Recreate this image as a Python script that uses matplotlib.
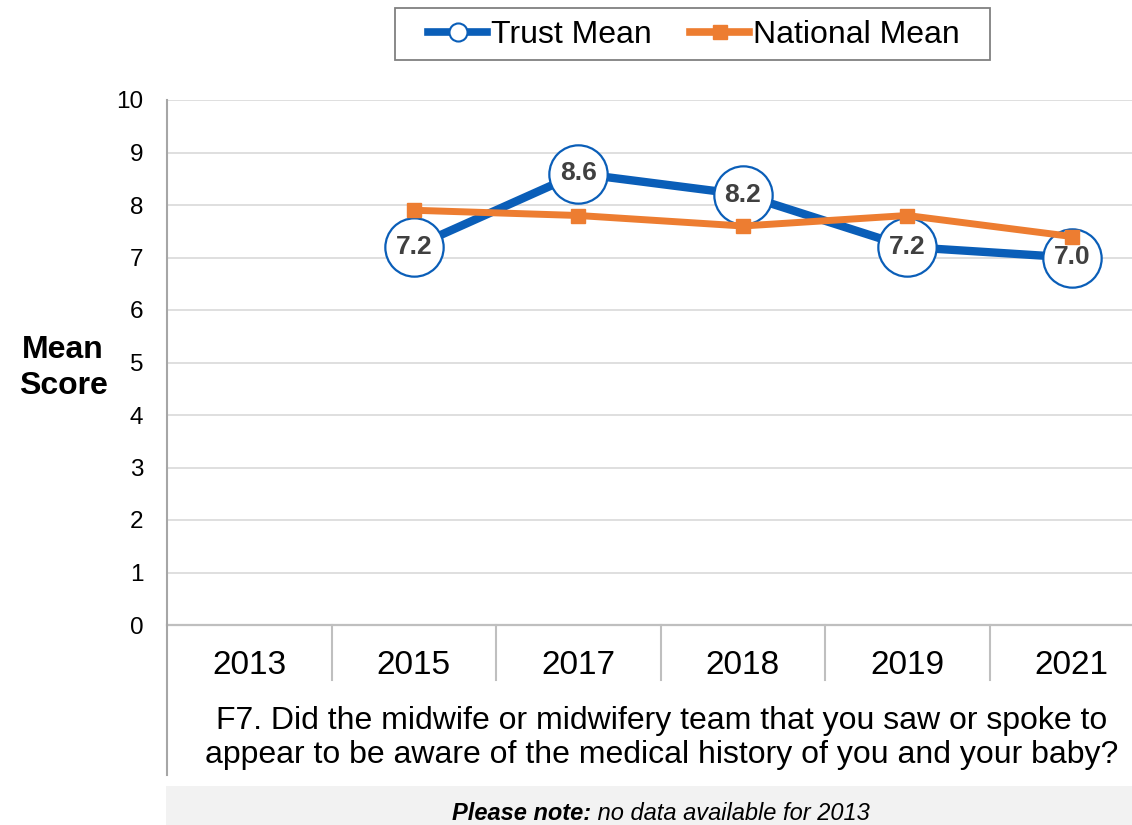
"""
Mean score trend chart: Trust vs National (F7 question)
"""

import matplotlib
matplotlib.use("Agg")
import matplotlib.pyplot as plt
import matplotlib.transforms as mtransforms
from matplotlib.lines import Line2D
from matplotlib.patches import Rectangle
import numpy as np

plt.rcParams['font.family'] = ['Liberation Sans', 'DejaVu Sans']

# データ
years = ['2013', '2015', '2017', '2018', '2019', '2021']
trust_mean = [np.nan, 7.2, 8.6, 8.2, 7.2, 7.0]
national_mean = [np.nan, 7.9, 7.8, 7.6, 7.8, 7.4]
y_ticks = list(range(0, 11))
question = ('F7. Did the midwife or midwifery team that you saw or spoke to\n'
            'appear to be aware of the medical history of you and your baby?')

# 色
blue = '#0A5EB8'
orange = '#ED7D31'
grid_grey = '#D9D9D9'
axis_grey = '#BFBFBF'

W, H = 1132, 825
fig = plt.figure(figsize=(W / 100, H / 100), dpi=100)

# プロット領域（右端は画像外まで伸びる）
left_px, right_px, top_px, bottom_px = 167, 1154, 100, 625
ax = fig.add_axes([left_px / W, 1 - bottom_px / H,
                   (right_px - left_px) / W, (bottom_px - top_px) / H])

x = np.arange(len(years))
ax.set_xlim(-0.5, len(years) - 0.5)
ax.set_ylim(0, 10)

for s in ax.spines.values():
    s.set_visible(False)

# グリッド
for v in y_ticks[1:]:
    ax.axhline(v, color=grid_grey, lw=1.2, zorder=0)
ax.axhline(0, color=axis_grey, lw=1.6, zorder=0, clip_on=False)

# 左軸線（下の設問エリアまで伸ばす）
ax.plot([0, 0], [1, -0.2857], transform=ax.transAxes, color='#A6A6A6',
        lw=1.5, clip_on=False, zorder=1)

# カテゴリ区切り線
trans = mtransforms.blended_transform_factory(ax.transData, ax.transAxes)
for xs in x[:-1] + 0.5:
    ax.plot([xs, xs], [0, -0.105], transform=trans, color=axis_grey,
            lw=1.5, clip_on=False)

# Y軸
ax.set_yticks(y_ticks)
ax.set_yticklabels([str(v) for v in y_ticks], fontsize=17.5)
ax.tick_params(axis='y', length=0, pad=17)

# X軸ラベル
ax.set_xticks(x)
ax.set_xticklabels(years, fontsize=24)
ax.tick_params(axis='x', length=0, pad=18)

# Trust Mean（丸マーカー + 値ラベル）
ax.plot(x, trust_mean, color=blue, lw=6, marker='o', markersize=42,
        markerfacecolor='white', markeredgecolor=blue, markeredgewidth=1.6,
        zorder=3, clip_on=False)

# National Mean
ax.plot(x, national_mean, color=orange, lw=5, marker='s', markersize=10,
        zorder=4, clip_on=False)

for xi, v in zip(x, trust_mean):
    if np.isnan(v):
        continue
    ax.text(xi, v, f'{v:.1f}', ha='center', va='center', fontsize=19,
            fontweight='bold', color='#404040', zorder=5)

# 凡例（枠は別に描く）
fig.patches.append(Rectangle((395 / W, 1 - 60 / H), 595 / W, 52 / H,
                             transform=fig.transFigure, facecolor='white',
                             edgecolor='#808080', lw=1.3, zorder=0))
handles = [
    Line2D([], [], color=blue, lw=5.5, marker='o', markersize=13,
           markerfacecolor='white', markeredgecolor=blue, markeredgewidth=1.5),
    Line2D([], [], color=orange, lw=5.5, marker='s', markersize=10),
]
leg = fig.legend(handles, ['Trust Mean', 'National Mean'], loc='center',
                 bbox_to_anchor=(694 / W, 1 - 35 / H), ncol=2, fontsize=23,
                 frameon=False, handlelength=1.85, handletextpad=0.12,
                 columnspacing=1.2, borderpad=0.2)

# Y軸タイトル
fig.text(63 / W, 1 - 368 / H, 'Mean\nScore', ha='center', va='center',
         fontsize=23, fontweight='bold', linespacing=1.22)

# 設問テキスト
fig.text(662 / W, 1 - 738 / H, question, ha='center', va='center',
         fontsize=23, linespacing=1.2)

# 注記ボックス
fig.patches.append(Rectangle((166 / W, 0), 1 - 166 / W, 39 / H,
                             transform=fig.transFigure, facecolor='#F2F2F2',
                             edgecolor='none', zorder=0))
note_y = 1 - 814 / H
t1 = fig.text(452 / W, note_y, 'Please note:', ha='left', va='center',
              fontsize=17, fontweight='bold', style='italic')
fig.canvas.draw()
bb = t1.get_window_extent()
fig.text(bb.x1 / W, note_y, ' no data available for 2013', ha='left',
         va='center', fontsize=17, style='italic')

fig.savefig('out.png', dpi=100)
